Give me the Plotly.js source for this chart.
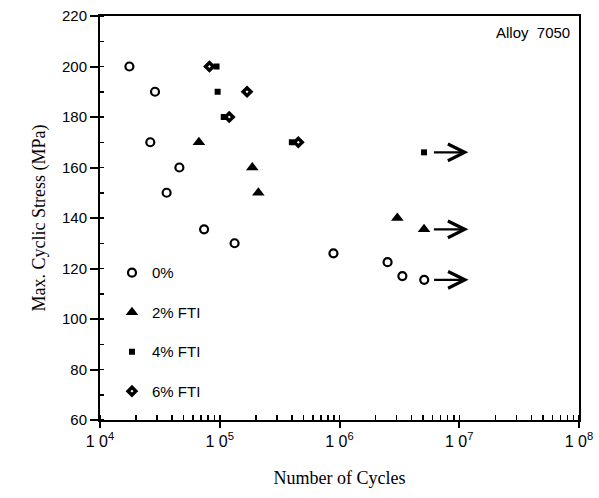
<!DOCTYPE html>
<html>
<head>
<meta charset="utf-8">
<script src="https://cdn.plot.ly/plotly-3.0.1.min.js"></script>
<style>html,body{margin:0;padding:0;background:#fff;}#chart{width:599px;height:498px;}</style>
</head>
<body>
<div id="chart"></div>
<script>
// ---- data ----
const cycles0 = [1.76e4, 2.88e4, 2.63e4, 4.6e4, 3.6e4, 7.4e4, 1.33e5, 8.9e5, 2.52e6, 3.35e6, 5.1e6];
const stress0 = [200, 190, 170, 160, 150, 135.5, 130, 126, 122.5, 117, 115.5];

const cycles2 = [6.7e4, 1.87e5, 2.1e5, 3.04e6, 5.08e6];
const stress2 = [170, 160, 150, 140, 135.5];

const cycles4 = [9.4e4, 9.6e4, 1.08e5, 4.0e5, 5.08e6];
const stress4 = [200, 190, 180, 170, 166];

const cycles6 = [8.2e4, 1.69e5, 1.2e5, 4.53e5];
const stress6 = [200, 190, 180, 170];

// run-outs (no failure), marked by arrows
const runoutCycles = [5.1e6, 5.08e6, 5.08e6];
const runoutStress = [115.5, 135.5, 166];

const seriesNames = ["0%", "2% FTI", "4% FTI", "6% FTI"];
const xTickVals = [1e4, 1e5, 1e6, 1e7, 1e8];
const xTickText = ["1 0<sup>4</sup>", "1 0<sup>5</sup>", "1 0<sup>6</sup>", "1 0<sup>7</sup>", "1 0<sup>8</sup>"];
const annotationText = "Alloy  7050";

// ---- chart ----
const sans = "Liberation Sans, Arial, Helvetica, sans-serif";
const serif = "Liberation Serif, Times New Roman, serif";

const traces = [
  {x: cycles0, y: stress0, name: seriesNames[0], legendgroup: "a",
   marker: {symbol: "circle-open", size: 8, color: "#000", line: {width: 2.2, color: "#000"}}},
  {x: cycles2, y: stress2, name: seriesNames[1], legendgroup: "b",
   marker: {symbol: "triangle-up", size: 11, color: "#000"}},
  {x: cycles4, y: stress4, name: seriesNames[2], legendgroup: "c",
   marker: {symbol: "square", size: 6, color: "#000"}},
  {x: cycles6, y: stress6, name: seriesNames[3], legendgroup: "d",
   marker: {symbol: "diamond-open", size: 6, color: "#000", line: {width: 3.5, color: "#000"}}}
].map(t => Object.assign({type: "scatter", mode: "markers", cliponaxis: false}, t));

const annotations = runoutCycles.map((c, i) => ({
  xref: "x", yref: "y", axref: "x", ayref: "y",
  x: Math.log10(c) + 0.37, y: runoutStress[i],
  ax: Math.log10(c) + 0.07, ay: runoutStress[i],
  text: "", showarrow: true, arrowhead: 5, arrowsize: 1.5, arrowwidth: 2.2, arrowcolor: "#000", standoff: 0
}));
annotations.push({
  xref: "paper", yref: "paper", x: 0.985, y: 0.985, xanchor: "right", yanchor: "top",
  text: annotationText, showarrow: false, font: {family: sans, size: 15, color: "#000"}
});

const layout = {
  width: 599, height: 498,
  margin: {l: 100, r: 20, t: 16, b: 78},
  paper_bgcolor: "#fff", plot_bgcolor: "#fff",
  showlegend: true,
  legend: {x: 0.025, y: 0.405, xanchor: "left", yanchor: "top", traceorder: "grouped",
           tracegroupgap: 17, font: {family: sans, size: 15, color: "#000"}, bgcolor: "rgba(0,0,0,0)"},
  xaxis: {
    type: "log", range: [4, 8],
    tickmode: "array", tickvals: xTickVals, ticktext: xTickText,
    ticks: "outside", ticklen: 6, tickwidth: 2, tickcolor: "#000",
    minor: {dtick: "D1", ticks: "inside", ticklen: 5, tickwidth: 1.5, tickcolor: "#000"},
    showgrid: false, zeroline: false,
    showline: true, linewidth: 2, linecolor: "#000", mirror: true,
    tickfont: {family: sans, size: 16, color: "#000"},
    title: {text: "Number of Cycles", font: {family: serif, size: 18, color: "#000"}, standoff: 22}
  },
  yaxis: {
    range: [60, 220], dtick: 20, tick0: 60,
    ticks: "outside", ticklen: 8, tickwidth: 2, tickcolor: "#000",
    minor: {dtick: 10, ticks: "inside", ticklen: 4, tickwidth: 1.5, tickcolor: "#000"},
    showgrid: false, zeroline: false,
    showline: true, linewidth: 2, linecolor: "#000", mirror: true,
    tickfont: {family: sans, size: 15, color: "#000"},
    title: {text: "Max. Cyclic Stress (MPa)", font: {family: serif, size: 18, color: "#000"}, standoff: 12}
  },
  annotations: annotations
};

Plotly.newPlot("chart", traces, layout, {displayModeBar: false, staticPlot: true});
</script>
</body>
</html>
